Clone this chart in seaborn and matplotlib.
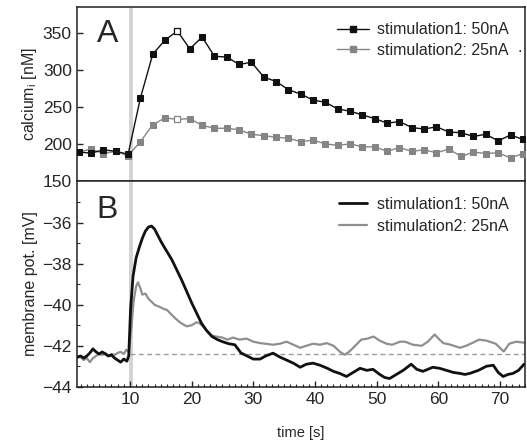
import numpy as np
import pandas as pd
import matplotlib
matplotlib.use("Agg")
import matplotlib.pyplot as plt
import seaborn as sns
from matplotlib.ticker import MultipleLocator, FixedLocator
from matplotlib.lines import Line2D

# calcium imaging samples (panel A)
ca_time = [1.7, 3.7, 5.7, 7.7, 9.7, 11.7, 13.7, 15.7, 17.7, 19.7, 21.7, 23.7,
           25.7, 27.7, 29.7, 31.7, 33.7, 35.7, 37.7, 39.7, 41.7, 43.7, 45.7,
           47.7, 49.7, 51.7, 53.7, 55.7, 57.7, 59.7, 61.7, 63.7, 65.7, 67.7,
           69.7, 71.7, 73.7]
ca_stim1 = [189, 187.5, 192, 190, 186, 262, 321, 340, 352, 328, 344, 318,
            317, 307, 310, 290, 284, 273, 267, 259, 256, 247, 244,
            239, 234, 228, 230, 222, 220, 223, 216, 215, 210, 213,
            204, 212, 206]
ca_stim2 = [189, 193, 187, 190, 184, 203, 226, 235, 233, 234, 225, 221,
            221, 219, 213, 211, 209, 207.5, 203, 205, 200, 198, 200,
            196, 196, 190, 195, 190, 192, 188, 193, 183, 189, 187,
            188, 181, 187]
open_idx = 8  # peak sample drawn with open marker

# membrane potential traces (panel B)
vm1_time = [1.4, 2.0, 2.5, 3.0, 3.5, 4.0, 4.5, 5.0, 5.5, 6.0, 6.5, 7.0, 7.5,
            8.0, 8.5, 9.0, 9.5, 9.8, 10.1, 10.5, 11.0, 11.5, 12.0, 12.5, 13.0,
            13.5, 14.0, 14.5, 15.2, 16.0, 16.8, 17.6, 18.4, 19.2, 20.0, 20.8,
            21.6, 22.4, 23.3, 24.2, 25.0, 26.0, 27.0, 28.0, 29.0, 30.0, 31.1,
            32.0, 33.2, 34.3, 35.4, 36.5, 37.6, 38.6, 39.7, 40.8, 42.0, 43.0,
            44.0, 45.1, 46.2, 47.3, 48.4, 49.4, 50.5, 51.3, 52.1, 53.2, 54.3,
            55.6, 56.5, 57.5, 58.3, 59.1, 60.2, 61.3, 62.4, 63.5, 64.3, 65.1,
            66.5, 67.8, 68.9, 69.7, 70.5, 71.3, 72.1, 73.0, 73.9]
vm1 = [-42.55, -42.5, -42.6, -42.5, -42.35, -42.15, -42.3, -42.4, -42.3, -42.4,
       -42.5, -42.45, -42.6, -42.7, -42.8, -42.65, -42.75, -42.5, -40.2, -38.6,
       -37.7, -37.2, -36.75, -36.4, -36.2, -36.15, -36.3, -36.6, -37.0, -37.4,
       -37.8, -38.3, -38.8, -39.35, -39.9, -40.4, -40.9, -41.25, -41.55, -41.7,
       -41.8, -41.9, -41.95, -42.35, -42.5, -42.65, -42.65, -42.5, -42.36,
       -42.55, -42.7, -42.85, -43.05, -42.9, -42.85, -42.95, -43.1, -43.25,
       -43.35, -43.5, -43.3, -43.1, -43.2, -43.15, -43.4, -43.55, -43.6, -43.4,
       -43.2, -42.9, -43.15, -43.25, -43.15, -43.05, -43.1, -43.2, -43.3,
       -43.35, -43.4, -43.35, -43.2, -43.0, -42.95, -43.3, -43.5, -43.4, -43.35,
       -43.2, -42.9]

vm2_time = [1.4, 2.0, 2.5, 3.0, 3.5, 4.0, 4.5, 5.0, 5.5, 6.0, 6.5, 7.0, 7.5,
            8.0, 8.5, 9.0, 9.4, 9.8, 10.2, 10.6, 11.0, 11.3, 11.7, 12.0, 12.5,
            13.0, 13.5, 14.0, 14.8, 15.5, 16.0, 16.8, 17.5, 18.3, 19.2, 20.0,
            20.8, 21.3, 22.0, 22.6, 23.3, 24.0, 25.0, 25.8, 26.7, 27.8, 28.9,
            30.0, 31.1, 32.0, 33.2, 34.3, 35.4, 36.5, 37.6, 38.6, 39.7, 40.8,
            41.9, 43.0, 44.0, 44.8, 45.5, 46.2, 47.5, 48.5, 49.5, 50.5, 51.6,
            52.5, 53.8, 54.6, 55.9, 57.3, 58.3, 59.4, 60.2, 60.8, 62.0, 63.5,
            64.5, 65.6, 66.6, 67.8, 69.3, 70.6, 71.5, 72.6, 73.9]
vm2 = [-42.6, -42.55, -42.7, -42.6, -42.8, -42.6, -42.5, -42.4, -42.45, -42.35,
       -42.5, -42.4, -42.45, -42.35, -42.3, -42.4, -42.2, -42.3, -41.2, -39.8,
       -39.1, -38.9, -39.2, -39.5, -39.45, -39.7, -39.85, -40.0, -40.1, -40.2,
       -40.25, -40.5, -40.7, -40.9, -41.05, -41.0, -40.85, -40.9, -41.1, -41.3,
       -41.5, -41.55, -41.6, -41.7, -41.6, -41.7, -41.65, -41.8, -41.87, -41.9,
       -41.95, -41.9, -41.8, -41.95, -42.1, -42.0, -41.9, -41.95, -41.87, -42.0,
       -42.28, -42.44, -42.3, -42.1, -41.7, -41.65, -41.55, -41.75, -41.9,
       -41.95, -41.8, -41.8, -41.95, -42.0, -41.8, -41.45, -41.7, -41.87,
       -41.95, -42.1, -42.0, -41.85, -41.7, -41.75, -41.9, -42.28, -41.9, -41.8,
       -41.85]

rest_level = -42.4
stim_window = (9.8, 10.55)
labels = ["stimulation1: 50nA", "stimulation2: 25nA"]

sns.set_style("ticks")
plt.rcParams['font.family'] = ['Liberation Sans', 'DejaVu Sans']
plt.rcParams['mathtext.fontset'] = 'custom'
plt.rcParams['mathtext.rm'] = 'Liberation Sans'
plt.rcParams['mathtext.it'] = 'Liberation Sans'
plt.rcParams['xtick.direction'] = 'in'
plt.rcParams['ytick.direction'] = 'in'

black = '#111111'
grey = '#858585'
grey_line = '#8f8f8f'
ms = 4.4

fig = plt.figure(figsize=(5.27, 4.41), dpi=100)
axA = fig.add_axes([0.1455, 0.5896, 0.8507, 0.3938])
axB = fig.add_axes([0.1455, 0.1231, 0.8507, 0.4665], sharex=axA)

## Panel A: calcium
ca = pd.DataFrame({'time': ca_time, 's1': ca_stim1, 's2': ca_stim2})
axA.axvspan(*stim_window, color='#d4d4d4', lw=0, zorder=0)
sns.lineplot(data=ca, x='time', y='s1', ax=axA, color=black, lw=1.0,
             marker='s', markersize=ms, markeredgecolor=black, zorder=4)
sns.lineplot(data=ca, x='time', y='s2', ax=axA, color=grey, lw=1.0,
             marker='s', markersize=ms, markeredgecolor=grey, zorder=3)
peak = ca.iloc[[open_idx]]
axA.plot(peak['time'], peak['s1'], 's', ms=ms, mfc='white', mec=black, mew=0.9, zorder=5)
axA.plot(peak['time'], peak['s2'], 's', ms=ms, mfc='white', mec=grey, mew=0.9, zorder=5)

axA.set_ylim(150, 384)
axA.yaxis.set_major_locator(MultipleLocator(50))
axA.set_ylabel("calcium$_{\\mathrm{i}}$ [nM]", fontsize=11.5, labelpad=3)
axA.set_xlabel("")
axA.tick_params(axis='x', which='both', bottom=False, labelbottom=False)
axA.tick_params(axis='y', labelsize=12.5, length=4, width=1)
axA.text(0.045, 0.93, "A", transform=axA.transAxes, fontsize=23, va='top', ha='left')
handlesA = [Line2D([], [], color=black, lw=1.0, marker='s', ms=ms),
            Line2D([], [], color=grey, lw=1.0, marker='s', ms=ms)]
axA.legend(handlesA, labels, loc='upper right', frameon=False, fontsize=11.5,
           handlelength=2.0, handletextpad=0.5, labelspacing=0.35,
           bbox_to_anchor=(0.985, 0.97), borderaxespad=0.2)
axA.text(0.988, 0.745, ".", transform=axA.transAxes, fontsize=12, ha='center')

## Panel B: membrane potential
t1 = pd.DataFrame({'time': vm1_time, 'vm': vm1})
t2 = pd.DataFrame({'time': vm2_time, 'vm': vm2})
axB.axvspan(*stim_window, color='#d4d4d4', lw=0, zorder=0)
axB.axhline(rest_level, xmin=(10 - 1.36) / (74.05 - 1.36), color='#9a9a9a',
            lw=1.0, ls=(0, (3.5, 2.5)), zorder=1)
sns.lineplot(data=t2, x='time', y='vm', ax=axB, color=grey_line, lw=1.6,
             label=labels[1], zorder=2)
sns.lineplot(data=t1, x='time', y='vm', ax=axB, color=black, lw=2.0,
             label=labels[0], zorder=3)

axB.set_xlim(1.36, 74.05)
axB.set_ylim(-44, -33.95)
axB.xaxis.set_major_locator(MultipleLocator(10))
axB.xaxis.set_minor_locator(MultipleLocator(1))
axB.yaxis.set_major_locator(FixedLocator([-44, -42, -40, -38, -36]))
axB.yaxis.set_minor_locator(FixedLocator([-43, -41, -39, -37, -35]))
axB.tick_params(which='major', labelsize=12.5, length=4, width=1)
axB.tick_params(which='minor', length=2.2, width=0.8)
axB.set_ylabel("membrane pot. [mV]", fontsize=11.5, labelpad=3)
axB.set_xlabel("time [s]", fontsize=10.5, labelpad=14)
axB.text(0.045, 0.93, "B", transform=axB.transAxes, fontsize=23, va='top', ha='left')
hB, lB = axB.get_legend_handles_labels()
order = [lB.index(labels[0]), lB.index(labels[1])]
axB.legend([hB[i] for i in order], [lB[i] for i in order], loc='upper right',
           frameon=False, fontsize=11.5, handlelength=1.8, handletextpad=0.6,
           labelspacing=0.45, bbox_to_anchor=(0.985, 0.97), borderaxespad=0.2)

for ax in (axA, axB):
    for s in ax.spines.values():
        s.set_visible(True)
        s.set_linewidth(1.1)
        s.set_color('#222222')

fig.savefig("out.png", dpi=100)
